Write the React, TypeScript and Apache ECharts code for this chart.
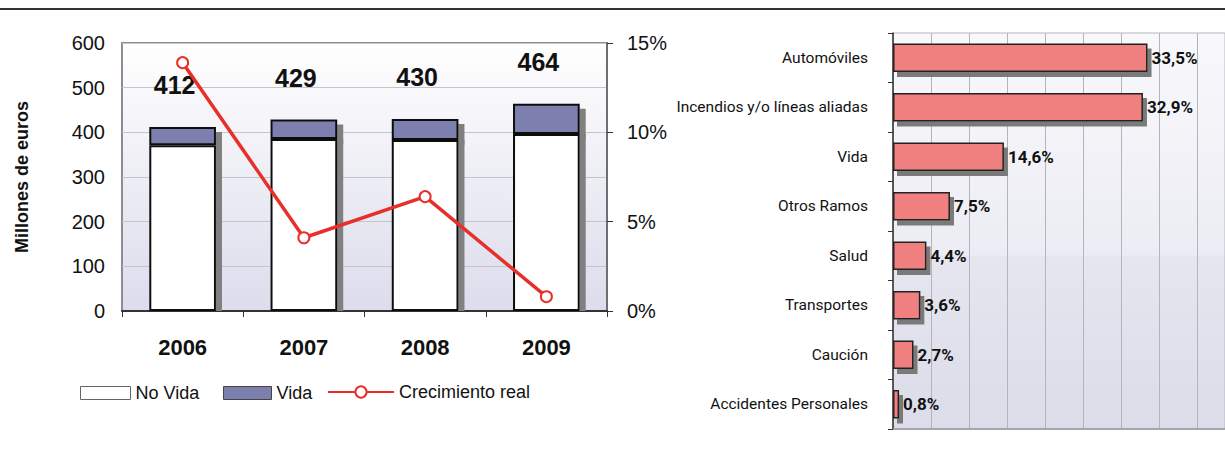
import React, { useEffect, useRef } from "react";
import * as echarts from "echarts";

// ---- Data: left chart (Millones de euros) ----
const years = ["2006", "2007", "2008", "2009"];
const noVida = [371, 385, 383, 396];
const vida = [41, 44, 47, 68];
const crecimiento = [13.9, 4.1, 6.4, 0.8];
const leftAxisTicks = { min: 0, max: 600, interval: 100 };
const rightAxisTicks = { min: 0, max: 15, interval: 5 };

// ---- Data: right chart (cuota por ramo, %) ----
const ramos = [
  "Automóviles",
  "Incendios y/o líneas aliadas",
  "Vida",
  "Otros Ramos",
  "Salud",
  "Transportes",
  "Caución",
  "Accidentes Personales",
];
const cuota = [33.5, 32.9, 14.6, 7.5, 4.4, 3.6, 2.7, 0.8];
const cuotaAxis = { min: 0, max: 43.7, interval: 5 };

const SANS = "'Liberation Sans', Arial, sans-serif";
const NARROW = "Roboto, 'Liberation Sans', Arial, sans-serif";

export default function App() {
  const ref = useRef<HTMLDivElement>(null);

  useEffect(() => {
    if (!ref.current) return;
    const chart = echarts.init(ref.current, undefined, { renderer: "svg" });
    const totals = noVida.map((v, i) => v + vida[i]);

    const leftBg = new echarts.graphic.LinearGradient(0, 0, 0, 1, [
      { offset: 0, color: "#ffffff" },
      { offset: 1, color: "#dcdcec" },
    ]);
    const rightBg = new echarts.graphic.LinearGradient(0, 0, 0, 1, [
      { offset: 0, color: "#f9f9fc" },
      { offset: 0.56, color: "#ececf4" },
      { offset: 0.565, color: "#e6e6f0" },
      { offset: 1, color: "#dcdcea" },
    ]);

    const legendText = { fontFamily: SANS, fontSize: 18, color: "#111" };

    chart.setOption({
      animation: false,
      backgroundColor: "#ffffff",
      graphic: [
        {
          type: "line",
          shape: { x1: 0, y1: 9, x2: 1225, y2: 9 },
          style: { stroke: "#333333", lineWidth: 2 },
        },
      ],
      legend: [
        {
          left: 75,
          top: 379,
          itemWidth: 50,
          itemHeight: 13,
          textStyle: legendText,
          data: [
            {
              name: "No Vida",
              icon: "rect",
              itemStyle: { color: "#ffffff", borderColor: "#666", borderWidth: 1, shadowColor: "transparent" },
            },
          ],
        },
        {
          left: 218,
          top: 379,
          itemWidth: 48,
          itemHeight: 13,
          textStyle: legendText,
          data: [
            {
              name: "Vida",
              icon: "rect",
              itemStyle: { color: "#7d7fae", borderColor: "#444", borderWidth: 1, shadowColor: "transparent" },
            },
          ],
        },
        {
          left: 322,
          top: 378,
          itemWidth: 66,
          itemHeight: 14,
          textStyle: legendText,
          data: [{ name: "Crecimiento real" }],
        },
      ],
      grid: [
        {
          left: 122,
          top: 43,
          width: 485,
          height: 268,
          show: true,
          backgroundColor: leftBg,
          borderColor: "#8c8c96",
          borderWidth: 2,
        },
        {
          left: 893,
          top: 33,
          width: 332,
          height: 396,
          show: true,
          backgroundColor: rightBg,
          borderColor: "#b8b8c0",
          borderWidth: 1,
        },
      ],
      xAxis: [
        {
          type: "category",
          gridIndex: 0,
          data: years,
          axisLine: { lineStyle: { color: "#333", width: 2 } },
          axisTick: { show: true, length: 6, lineStyle: { color: "#333" } },
          axisLabel: { fontFamily: SANS, fontWeight: "bold", fontSize: 22, color: "#111", margin: 25 },
        },
        {
          type: "value",
          gridIndex: 1,
          min: cuotaAxis.min,
          max: cuotaAxis.max,
          interval: cuotaAxis.interval,
          axisLabel: { show: false },
          axisTick: { show: false },
          axisLine: { show: true, lineStyle: { color: "#999", width: 1.5 } },
          splitLine: { show: true, lineStyle: { color: "#b4b4bc", width: 1 } },
        },
      ],
      yAxis: [
        {
          type: "value",
          gridIndex: 0,
          min: leftAxisTicks.min,
          max: leftAxisTicks.max,
          interval: leftAxisTicks.interval,
          name: "Millones de euros",
          nameLocation: "middle",
          nameGap: 91,
          nameTextStyle: { fontFamily: SANS, fontWeight: "bold", fontSize: 18, color: "#111" },
          axisLine: { show: false },
          axisTick: { show: false },
          axisLabel: { fontFamily: SANS, fontSize: 20, color: "#111", margin: 17 },
          splitLine: { show: true, lineStyle: { color: "#c4c4cc", width: 1 } },
        },
        {
          type: "value",
          gridIndex: 0,
          position: "right",
          min: rightAxisTicks.min,
          max: rightAxisTicks.max,
          interval: rightAxisTicks.interval,
          axisLine: { show: true, lineStyle: { color: "#666", width: 1.5 } },
          axisTick: { show: true, length: 6, lineStyle: { color: "#333" } },
          axisLabel: { fontFamily: SANS, fontSize: 20, color: "#111", margin: 20, formatter: "{value}%" },
          splitLine: { show: false },
        },
        {
          type: "category",
          gridIndex: 1,
          data: ramos,
          inverse: true,
          axisLine: { show: true, lineStyle: { color: "#333", width: 1.5 } },
          axisTick: { show: true, length: 5, lineStyle: { color: "#333" } },
          axisLabel: { fontFamily: NARROW, fontSize: 15.5, color: "#111", margin: 25 },
        },
      ],
      series: [
        {
          name: "No Vida",
          type: "bar",
          stack: "total",
          xAxisIndex: 0,
          yAxisIndex: 0,
          data: noVida,
          barWidth: "55%",
          z: 3,
          itemStyle: {
            color: "#ffffff",
            borderColor: "#111",
            borderWidth: 2,
            shadowColor: "#808080",
            shadowOffsetX: 6,
            shadowOffsetY: 0,
            shadowBlur: 0,
          },
        },
        {
          name: "Vida",
          type: "bar",
          stack: "total",
          xAxisIndex: 0,
          yAxisIndex: 0,
          data: vida,
          barWidth: "55%",
          z: 2,
          itemStyle: {
            color: "#7d7fae",
            borderColor: "#111",
            borderWidth: 2,
            shadowColor: "#808080",
            shadowOffsetX: 6,
            shadowOffsetY: 5,
            shadowBlur: 0,
          },
          label: {
            show: true,
            position: "top",
            distance: 29,
            offset: [-8, 0],
            formatter: (p: any) => String(totals[p.dataIndex]),
            fontFamily: SANS,
            fontWeight: "bold",
            fontSize: 25,
            color: "#111",
          },
        },
        {
          name: "Crecimiento real",
          type: "line",
          xAxisIndex: 0,
          yAxisIndex: 1,
          data: crecimiento,
          symbol: "emptyCircle",
          symbolSize: 11,
          z: 5,
          lineStyle: { color: "#e8302a", width: 3.5 },
          itemStyle: { color: "#e8302a", borderWidth: 2 },
        },
        {
          name: "Cuota",
          type: "bar",
          xAxisIndex: 1,
          yAxisIndex: 2,
          data: cuota,
          barWidth: "58%",
          itemStyle: {
            color: "#f08080",
            borderColor: "#222",
            borderWidth: 1.5,
            shadowColor: "#7a7a7a",
            shadowOffsetX: 4,
            shadowOffsetY: 5,
            shadowBlur: 0,
          },
          label: {
            show: true,
            position: "right",
            distance: 4,
            formatter: (p: any) => Number(p.value).toFixed(1).replace(".", ",") + "%",
            fontFamily: NARROW,
            fontWeight: "bold",
            fontSize: 17,
            color: "#111",
          },
        },
      ],
    });

    return () => chart.dispose();
  }, []);

  return (
    <div
      ref={ref}
      style={{ position: "fixed", left: 0, top: 0, width: 1225, height: 457, background: "#fff" }}
    />
  );
}
